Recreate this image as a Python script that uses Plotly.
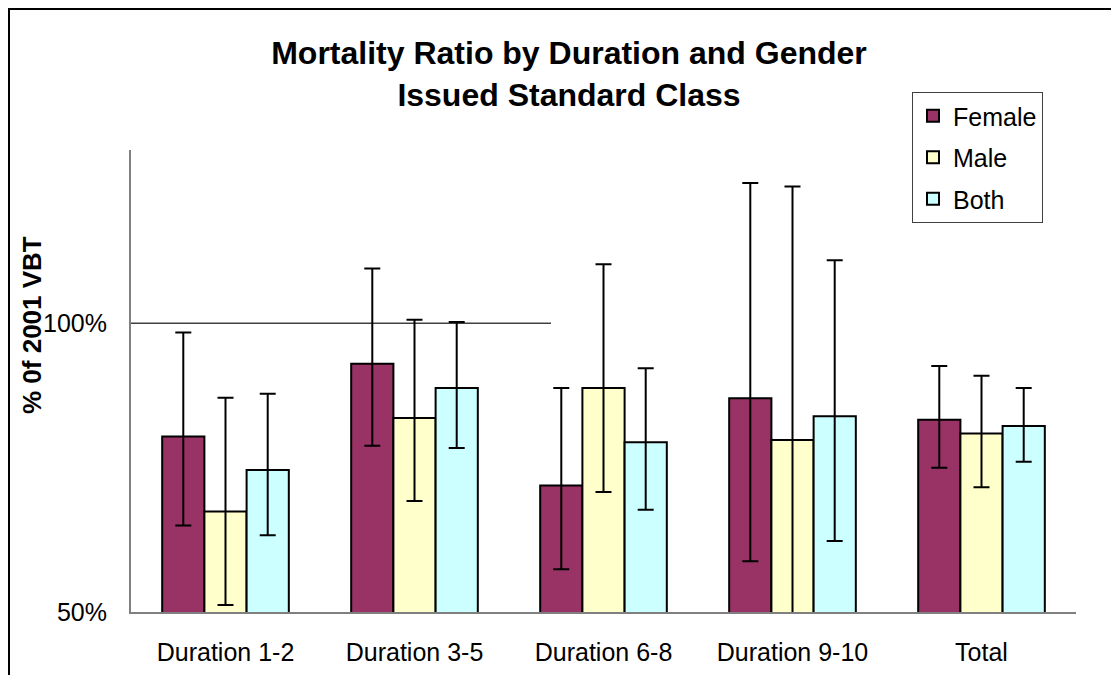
import plotly.graph_objects as go

categories = ["Duration 1-2", "Duration 3-5", "Duration 6-8", "Duration 9-10", "Total"]
series_names = ["Female", "Male", "Both"]

female = [80.4, 93.0, 71.9, 87.0, 83.3]
female_hi = [98.4, 109.5, 88.8, 124.3, 92.6]
female_lo = [65.0, 78.8, 57.4, 58.8, 75.0]

male = [67.4, 83.6, 88.8, 79.8, 80.9]
male_hi = [87.1, 100.6, 110.2, 123.7, 90.9]
male_lo = [51.2, 69.2, 70.8, 46.0, 71.6]

both = [74.6, 88.8, 79.4, 83.9, 82.2]
both_hi = [87.8, 100.2, 92.2, 110.9, 88.8]
both_lo = [63.3, 78.4, 67.7, 62.3, 76.0]

colors = ["#993366", "#FFFFCC", "#CCFFFF"]
FONT = "Liberation Sans, Arial, sans-serif"

# page body has an 8px margin; layout numbers below are in figure pixels
L, R, T, B = 123, 1068, 142, 604
PW, PH = R - L, B - T

fig = go.Figure()
for name, vals, hi, lo, col in zip(series_names, [female, male, both],
                                   [female_hi, male_hi, both_hi],
                                   [female_lo, male_lo, both_lo], colors):
    fig.add_trace(go.Bar(
        name=name, x=categories, y=vals, legendgroup=name,
        marker=dict(color=col, line=dict(color="black", width=2)),
        error_y=dict(type="data", symmetric=False,
                     array=[h - v for h, v in zip(hi, vals)],
                     arrayminus=[v - l for v, l in zip(vals, lo)],
                     color="black", thickness=2, width=8),
    ))

fig.update_layout(
    width=1119, height=675,
    barmode="group", bargap=0.33, bargroupgap=0,
    paper_bgcolor="white", plot_bgcolor="white",
    margin=dict(l=L, r=1119 - R, t=T, b=675 - B, autoexpand=False),
    font=dict(family=FONT, size=25, color="black"),
    title=dict(text="<b>Mortality Ratio by Duration and Gender<br>Issued Standard Class</b>",
               x=(569 - 8) / 1119, xanchor="center", y=1 - 56 / 675, yanchor="middle", yref="container",
               font=dict(family=FONT, size=32, color="black")),
    showlegend=True,
    legend=dict(x=(904 - L) / PW, y=(B - 84) / PH, xanchor="left", yanchor="top",
                bordercolor="#404040", borderwidth=1, bgcolor="white",
                font=dict(family=FONT, size=25), tracegroupgap=6, itemwidth=30),
    xaxis=dict(showline=True, linecolor="#808080", linewidth=2, ticks="",
               tickfont=dict(size=25), ticklabelstandoff=17, showgrid=False),
    yaxis=dict(range=[50, 130], dtick=50, tick0=0, ticksuffix="%", showline=True,
               linecolor="#808080", linewidth=2, ticks="", showgrid=False, zeroline=False,
               tickfont=dict(size=25), ticklabelstandoff=17),
    annotations=[dict(text="<b>% 0f 2001 VBT</b>", textangle=-90, xref="paper", yref="paper",
                      x=(24 - L) / PW, y=(B - 317) / PH, showarrow=False,
                      font=dict(family=FONT, size=26), xanchor="center", yanchor="middle")],
    shapes=[
        dict(type="line", xref="paper", yref="y", x0=0, x1=(543 - L) / PW, y0=100, y1=100,
             line=dict(color="#404040", width=1.5), layer="below"),
        dict(type="rect", xref="paper", yref="paper", x0=(1 - L) / PW, x1=2,
             y0=-1, y1=(B - 1) / PH, line=dict(color="black", width=2), fillcolor="rgba(0,0,0,0)"),
    ],
)

fig.write_html("out.html")
